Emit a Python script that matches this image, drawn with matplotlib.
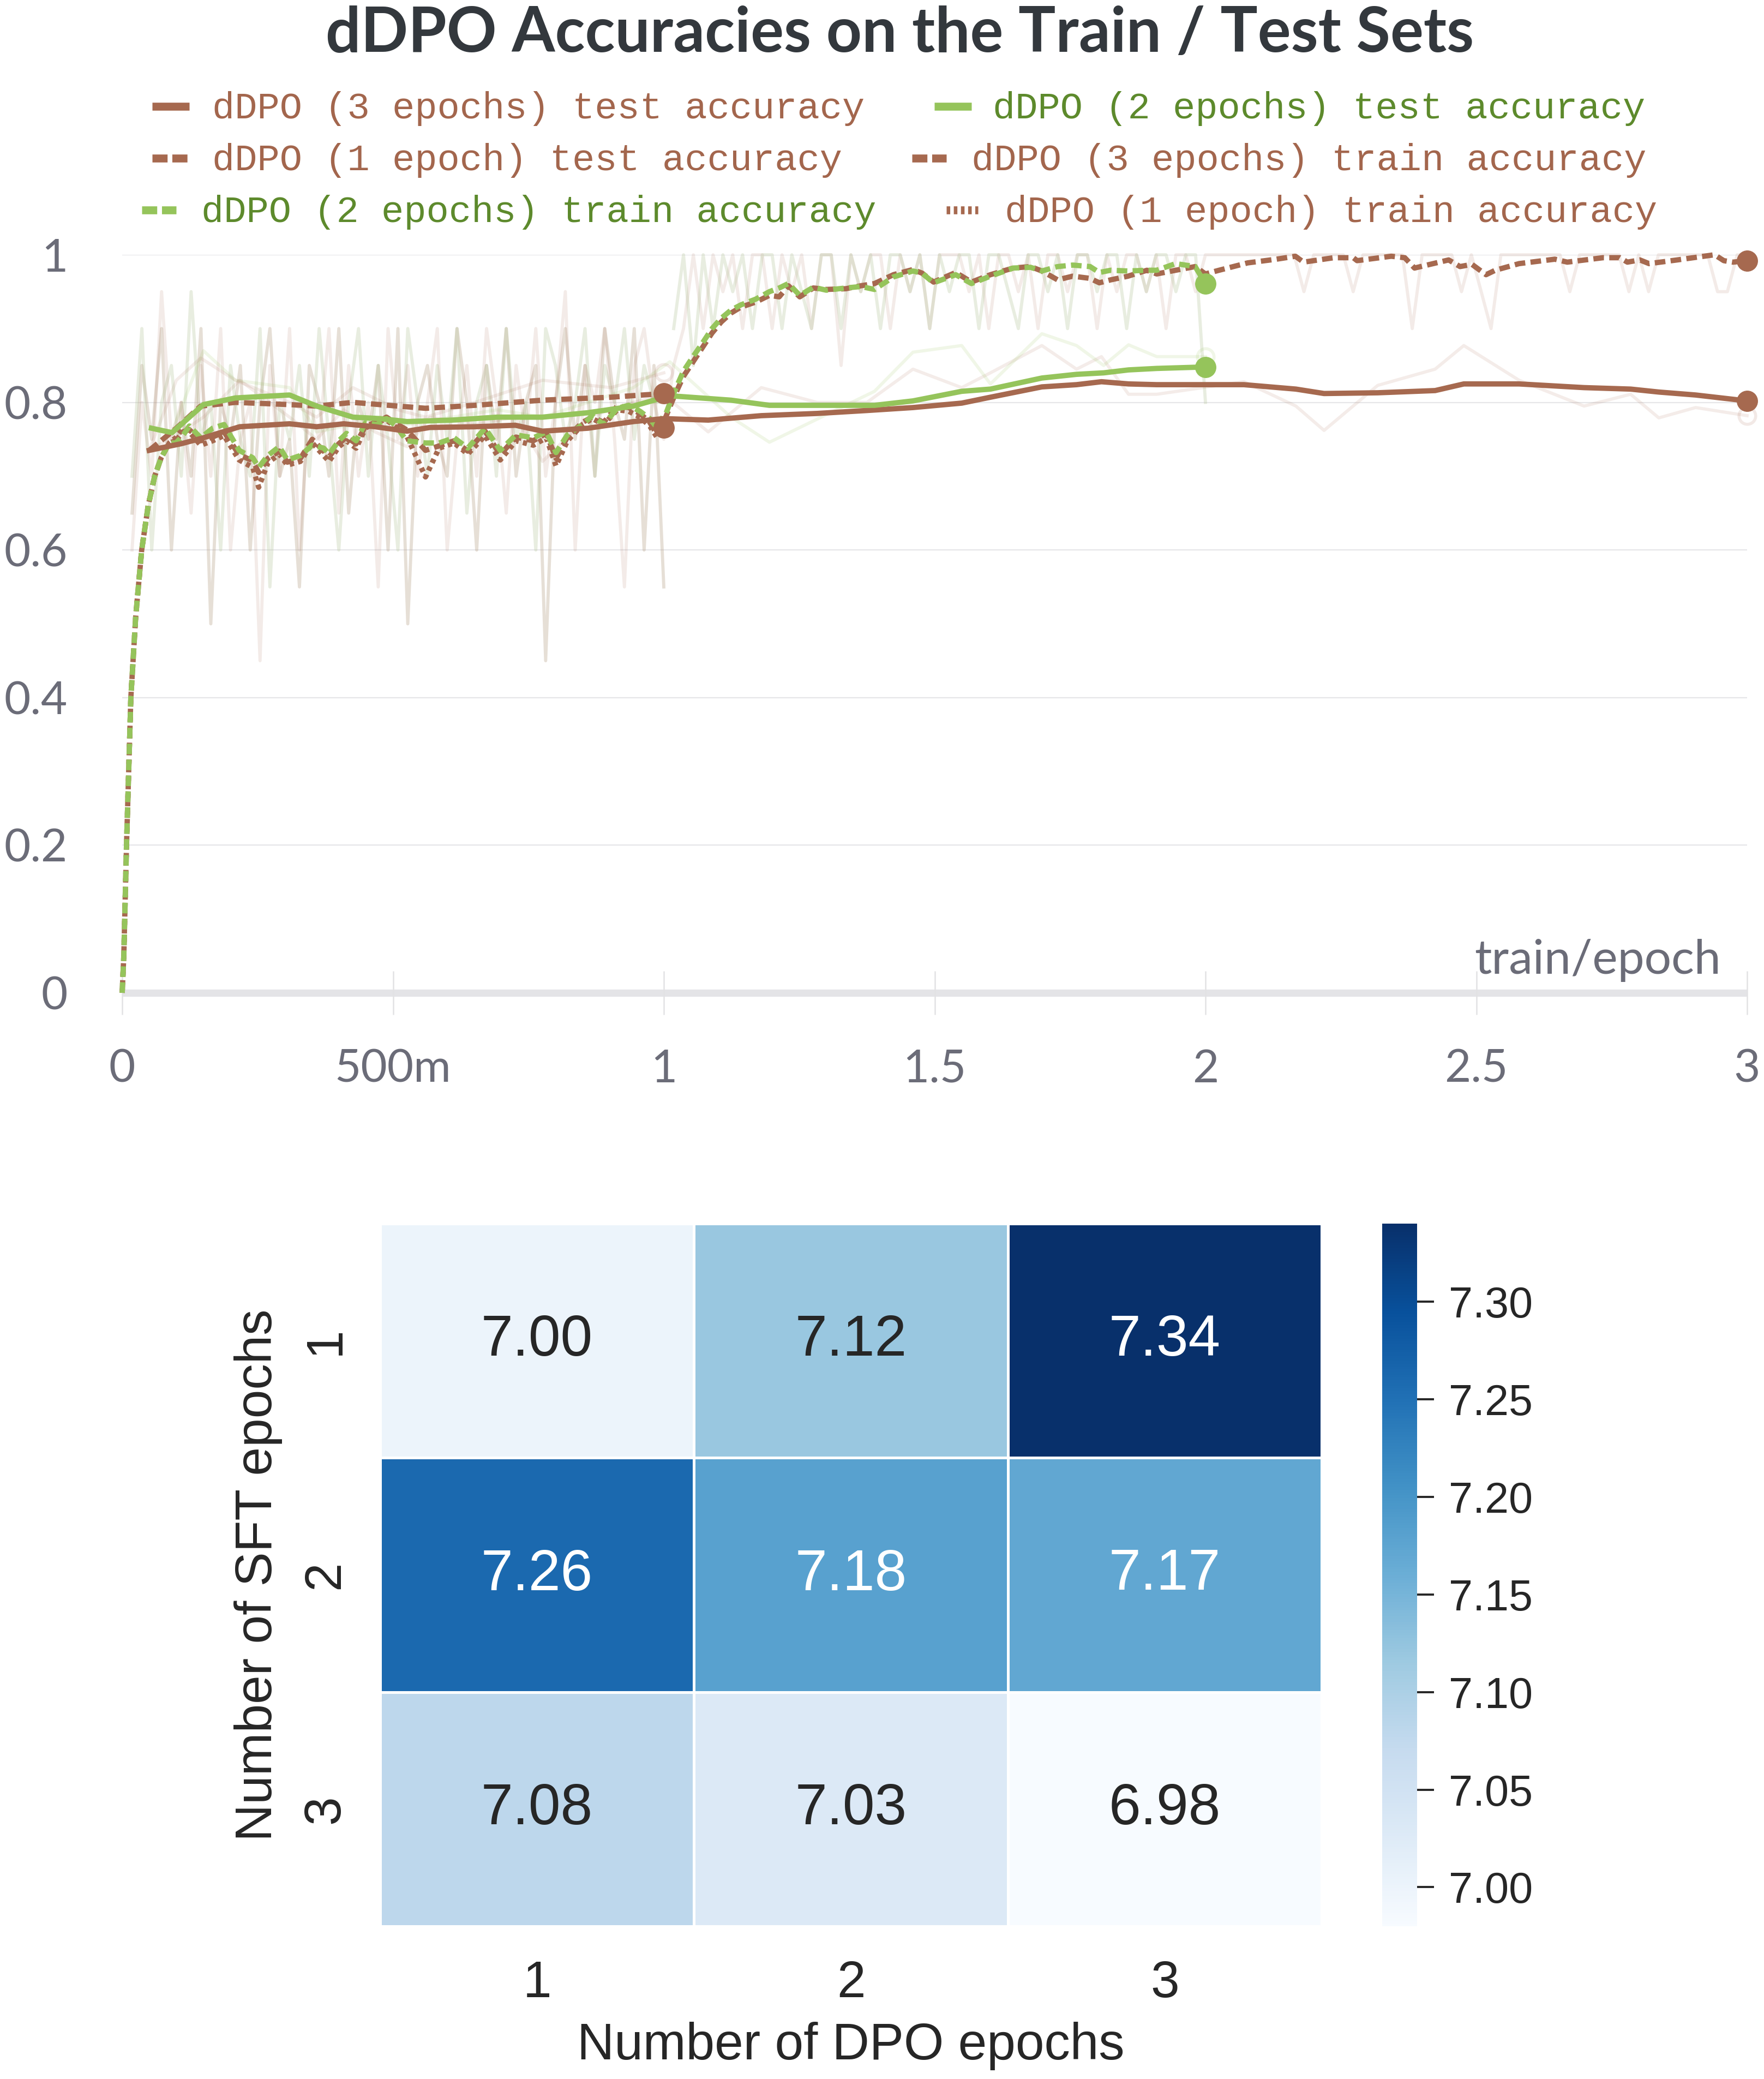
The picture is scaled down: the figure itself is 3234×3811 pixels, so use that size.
import numpy as np
import matplotlib
matplotlib.use("Agg")
import matplotlib.pyplot as plt
from matplotlib.lines import Line2D
import seaborn as sns

# ---------------- data: smoothed curves (epoch, accuracy) ----------------
# dDPO (3 epochs) test accuracy
test3_x = [0.05, 0.109, 0.15, 0.217, 0.309, 0.359, 0.409, 0.467, 0.526, 0.568,
           0.651, 0.726, 0.776, 0.86, 0.944, 1.0, 1.082, 1.18, 1.283, 1.375,
           1.46, 1.55, 1.603, 1.698, 1.762, 1.808, 1.858, 1.91, 2.071, 2.167,
           2.219, 2.318, 2.424, 2.477, 2.579, 2.699, 2.785, 2.837, 2.905, 3.0]
test3_y = [0.735, 0.744, 0.752, 0.767, 0.771, 0.767, 0.771, 0.767, 0.761, 0.766,
           0.767, 0.769, 0.761, 0.765, 0.774, 0.778, 0.776, 0.782, 0.785, 0.789,
           0.793, 0.799, 0.807, 0.821, 0.824, 0.828, 0.825, 0.824, 0.824, 0.818,
           0.812, 0.813, 0.816, 0.825, 0.825, 0.820, 0.818, 0.814, 0.810, 0.802]
test3_raw = [0.735, 0.76, 0.78, 0.83, 0.78, 0.75, 0.79, 0.76, 0.74, 0.78,
             0.77, 0.78, 0.72, 0.78, 0.80, 0.81, 0.76, 0.82, 0.80, 0.80,
             0.845, 0.82, 0.84, 0.877, 0.845, 0.862, 0.811, 0.811, 0.828, 0.795,
             0.762, 0.823, 0.845, 0.877, 0.83, 0.795, 0.811, 0.779, 0.793, 0.782]

# dDPO (2 epochs) test accuracy
test2_x = [0.054, 0.092, 0.15, 0.209, 0.309, 0.359, 0.426, 0.476, 0.526, 0.609,
           0.693, 0.776, 0.86, 0.944, 1.011, 1.124, 1.195, 1.389, 1.46, 1.55,
           1.603, 1.698, 1.762, 1.812, 1.858, 1.91, 2.0]
test2_y = [0.765, 0.759, 0.797, 0.806, 0.810, 0.795, 0.780, 0.778, 0.774, 0.776,
           0.780, 0.780, 0.786, 0.795, 0.809, 0.803, 0.796, 0.796, 0.802, 0.815,
           0.818, 0.833, 0.838, 0.840, 0.844, 0.846, 0.848]
test2_raw = [0.765, 0.76, 0.87, 0.83, 0.82, 0.76, 0.77, 0.78, 0.77, 0.78,
             0.79, 0.78, 0.80, 0.82, 0.855, 0.78, 0.746, 0.815, 0.868, 0.877,
             0.825, 0.893, 0.877, 0.85, 0.878, 0.862, 0.862]

# dDPO (1 epoch) test accuracy
test1_x = [0.05, 0.1, 0.145, 0.209, 0.309, 0.359, 0.426, 0.509, 0.56, 0.651, 0.776, 0.902, 1.0]
test1_y = [0.735, 0.765, 0.795, 0.800, 0.797, 0.795, 0.800, 0.795, 0.792, 0.796, 0.803, 0.807, 0.812]
test1_raw = [0.735, 0.83, 0.86, 0.83, 0.80, 0.78, 0.82, 0.79, 0.78, 0.80, 0.83, 0.82, 0.84]

# train accuracy, first epoch (shared epochs for the three runs)
rise_x = [0.0, 0.003, 0.008, 0.016, 0.025, 0.036, 0.048, 0.06, 0.072, 0.087]
rise_y = [0.0, 0.05, 0.20, 0.40, 0.51, 0.60, 0.66, 0.70, 0.725, 0.745]
ep1_x = [0.099, 0.112, 0.124, 0.145, 0.167, 0.188, 0.216, 0.241, 0.252, 0.269,
         0.29, 0.305, 0.329, 0.351, 0.372, 0.382, 0.4, 0.414, 0.432, 0.449,
         0.47, 0.488, 0.506, 0.525, 0.56, 0.585, 0.613, 0.638, 0.67, 0.698,
         0.727, 0.759, 0.783, 0.801, 0.822, 0.85, 0.868, 0.889, 0.914, 0.935,
         0.956, 0.974, 0.988, 1.0]
train3_ep1 = [0.748, 0.760, 0.763, 0.748, 0.753, 0.760, 0.729, 0.721, 0.705, 0.724,
              0.734, 0.719, 0.724, 0.750, 0.734, 0.726, 0.744, 0.753, 0.744, 0.768,
              0.773, 0.780, 0.771, 0.763, 0.735, 0.741, 0.748, 0.734, 0.761, 0.729,
              0.753, 0.748, 0.758, 0.724, 0.753, 0.773, 0.780, 0.773, 0.795, 0.793,
              0.785, 0.773, 0.756, 0.770]
train2_ep1 = [0.745, 0.755, 0.768, 0.752, 0.765, 0.770, 0.735, 0.725, 0.712, 0.728,
              0.740, 0.722, 0.728, 0.742, 0.738, 0.730, 0.748, 0.758, 0.748, 0.772,
              0.770, 0.778, 0.768, 0.748, 0.745, 0.745, 0.752, 0.738, 0.765, 0.735,
              0.756, 0.752, 0.760, 0.732, 0.756, 0.770, 0.782, 0.770, 0.792, 0.796,
              0.788, 0.778, 0.765, 0.783]
train1_ep1 = [0.752, 0.765, 0.760, 0.742, 0.748, 0.755, 0.722, 0.712, 0.685, 0.718,
              0.730, 0.715, 0.720, 0.745, 0.728, 0.720, 0.740, 0.748, 0.738, 0.765,
              0.775, 0.776, 0.766, 0.755, 0.699, 0.738, 0.745, 0.730, 0.755, 0.722,
              0.748, 0.742, 0.752, 0.714, 0.748, 0.770, 0.778, 0.770, 0.790, 0.788,
              0.780, 0.768, 0.752, 0.766]

# train accuracy, second epoch
ep2_x = [1.004, 1.018, 1.036, 1.054, 1.071, 1.089, 1.106, 1.124, 1.142, 1.170,
         1.195, 1.213, 1.230, 1.251, 1.276, 1.300, 1.336, 1.364, 1.389, 1.424,
         1.460, 1.477, 1.498, 1.539, 1.568, 1.603, 1.645, 1.677, 1.698, 1.727,
         1.755, 1.787, 1.804, 1.825, 1.857, 1.892, 1.910, 1.945, 1.981, 2.0]
train3_ep2 = [0.781, 0.806, 0.835, 0.855, 0.874, 0.894, 0.909, 0.921, 0.929, 0.936,
              0.945, 0.943, 0.958, 0.943, 0.955, 0.953, 0.954, 0.958, 0.961, 0.973,
              0.980, 0.975, 0.963, 0.976, 0.963, 0.973, 0.982, 0.984, 0.978, 0.966,
              0.971, 0.968, 0.962, 0.966, 0.971, 0.979, 0.974, 0.979, 0.984, 0.974]
train2_ep2 = [0.785, 0.812, 0.842, 0.862, 0.880, 0.900, 0.914, 0.925, 0.932, 0.940,
              0.950, 0.955, 0.961, 0.945, 0.956, 0.952, 0.955, 0.957, 0.953, 0.970,
              0.978, 0.975, 0.962, 0.973, 0.961, 0.971, 0.982, 0.983, 0.978, 0.984,
              0.986, 0.984, 0.976, 0.979, 0.978, 0.979, 0.979, 0.988, 0.984, 0.961]

# train accuracy, third epoch (3-epoch run only)
ep3_x = [2.025, 2.078, 2.131, 2.166, 2.181, 2.237, 2.273, 2.280, 2.343, 2.368,
         2.386, 2.449, 2.470, 2.492, 2.518, 2.535, 2.579, 2.645, 2.668, 2.734,
         2.765, 2.779, 2.802, 2.819, 2.871, 2.940, 2.957, 2.974, 3.0]
train3_ep3 = [0.979, 0.989, 0.994, 0.998, 0.990, 0.996, 0.996, 0.992, 0.998, 0.996,
              0.982, 0.993, 0.984, 0.987, 0.973, 0.979, 0.988, 0.994, 0.990, 0.996,
              0.996, 0.990, 0.993, 0.988, 0.993, 1.000, 0.992, 0.990, 0.992]

# raw (unsmoothed) batch train accuracy, one value per logged step
raw3_ep1 = [0.60, 0.80, 0.70, 0.95, 0.75, 0.80, 0.65, 0.85, 0.70, 0.90,
            0.60, 0.75, 0.80, 0.45, 0.85, 0.70, 0.90, 0.60, 0.80, 0.75,
            0.90, 0.65, 0.85, 0.70, 0.80, 0.55, 0.90, 0.75, 0.85, 0.70,
            0.80, 0.90, 0.60, 0.75, 0.85, 0.70, 0.90, 0.80, 0.65, 0.85,
            0.75, 0.90, 0.70, 0.80, 0.95, 0.60, 0.85, 0.80, 0.90, 0.75,
            0.55, 0.85, 0.90, 0.80, 0.75]
raw2_ep1 = [0.70, 0.90, 0.60, 0.80, 0.85, 0.70, 0.95, 0.75, 0.80, 0.60,
            0.85, 0.75, 0.70, 0.90, 0.55, 0.80, 0.75, 0.85, 0.70, 0.90,
            0.75, 0.60, 0.80, 0.90, 0.70, 0.85, 0.75, 0.60, 0.90, 0.80,
            0.70, 0.85, 0.75, 0.90, 0.65, 0.80, 0.85, 0.70, 0.90, 0.75,
            0.80, 0.60, 0.90, 0.85, 0.75, 0.80, 0.90, 0.70, 0.85, 0.80,
            0.90, 0.75, 0.85, 0.80, 0.80]
raw1_ep1 = [0.65, 0.85, 0.75, 0.90, 0.60, 0.80, 0.70, 0.90, 0.50, 0.80,
            0.75, 0.85, 0.60, 0.80, 0.90, 0.70, 0.75, 0.55, 0.85, 0.80,
            0.70, 0.90, 0.65, 0.80, 0.75, 0.85, 0.60, 0.90, 0.50, 0.80,
            0.85, 0.75, 0.70, 0.90, 0.80, 0.60, 0.85, 0.75, 0.90, 0.70,
            0.80, 0.85, 0.45, 0.80, 0.90, 0.75, 0.85, 0.70, 0.90, 0.80,
            0.75, 0.90, 0.60, 0.85, 0.55]
raw3_ep2 = [0.85, 0.90, 1.00, 0.90, 1.00, 0.95, 1.00, 0.90, 1.00, 1.00,
            0.90, 1.00, 0.95, 1.00, 0.90, 1.00, 1.00, 0.85, 1.00, 0.95,
            1.00, 1.00, 0.90, 1.00, 0.95, 1.00, 0.90, 1.00, 1.00, 1.00,
            0.95, 1.00, 0.90, 1.00, 1.00, 0.95, 1.00, 0.90, 1.00, 1.00,
            0.95, 1.00, 1.00, 0.90, 1.00, 0.95, 1.00, 1.00, 0.95, 1.00,
            0.90, 1.00, 1.00, 0.95, 1.00]
raw2_ep2 = [0.90, 1.00, 0.85, 1.00, 0.90, 1.00, 0.95, 1.00, 0.90, 1.00,
            1.00, 0.90, 1.00, 0.95, 0.90, 1.00, 1.00, 0.90, 1.00, 0.95,
            1.00, 0.90, 1.00, 1.00, 0.95, 1.00, 0.90, 1.00, 0.95, 1.00,
            1.00, 0.90, 1.00, 1.00, 0.95, 0.90, 1.00, 1.00, 0.95, 1.00,
            0.90, 1.00, 1.00, 0.95, 1.00, 1.00, 0.90, 1.00, 0.95, 1.00,
            1.00, 0.95, 1.00, 1.00, 0.80]
raw3_ep3 = [1.00, 1.00, 1.00, 1.00, 1.00, 1.00, 1.00, 1.00, 1.00, 0.95,
            1.00, 1.00, 1.00, 1.00, 0.95, 1.00, 1.00, 1.00, 1.00, 1.00,
            0.90, 1.00, 1.00, 1.00, 1.00, 0.95, 1.00, 0.95, 0.90, 1.00,
            1.00, 1.00, 1.00, 1.00, 1.00, 1.00, 0.95, 1.00, 1.00, 1.00,
            1.00, 1.00, 0.95, 1.00, 0.95, 1.00, 1.00, 1.00, 1.00, 1.00,
            1.00, 0.95, 0.95, 1.00, 1.00]

# heatmap: score by SFT epochs (rows) x DPO epochs (cols)
sft_labels = ["1", "2", "3"]
dpo_labels = ["1", "2", "3"]
scores = [[7.00, 7.12, 7.34],
          [7.26, 7.18, 7.17],
          [7.08, 7.03, 6.98]]

xtick_vals = [0, 0.5, 1, 1.5, 2, 2.5, 3]
xtick_text = ["0", "500m", "1", "1.5", "2", "2.5", "3"]
ytick_vals = [0, 0.2, 0.4, 0.6, 0.8, 1.0]
ytick_text = ["0", "0.2", "0.4", "0.6", "0.8", "1"]

# ---------------- styling ----------------
W, H = 3234, 3811
BROWN = "#a6694f"
GREEN = "#95c45b"
BROWN_TXT = "#a3664d"
GREEN_TXT = "#5d8a2c"
GRAY_TXT = "#6b6c78"
WB_FONT = ["Lato", "DejaVu Sans"]


def fx(px):
    return px / W


def fy(py):
    return 1 - py / H


def steps(start, vals):
    n = len(vals)
    return [start + (k + 1) / n for k in range(n)]


fig = plt.figure(figsize=(W / 100, H / 100), dpi=100)
fig.patch.set_facecolor("white")

# ---------------- top: wandb line chart ----------------
ax = fig.add_axes([fx(224), fy(1820), fx(3203 - 224), (1820 - 467) / H])
ax.set_xlim(0, 3)
ax.set_ylim(0, 1)
for s in ax.spines.values():
    s.set_visible(False)

for y in ytick_vals[1:]:
    ax.axhline(y, color="#e6e6e8", lw=1.6, zorder=0)
ax.plot([0, 3], [0, 0], color="#e4e4e7", lw=9.5, solid_capstyle="butt", zorder=0.5, clip_on=False)

# raw curves (faint)
raw_kw = dict(lw=4.2, zorder=1, clip_on=False)
ax.plot(steps(0, raw1_ep1), raw1_ep1, color="#b9a48c", alpha=0.35, **raw_kw)
ax.plot(steps(0, raw2_ep1), raw2_ep1, color="#b5c49a", alpha=0.3, **raw_kw)
ax.plot(steps(0, raw3_ep1) + steps(1, raw3_ep2) + steps(2, raw3_ep3),
        raw3_ep1 + raw3_ep2 + raw3_ep3, color=BROWN, alpha=0.13, **raw_kw)
ax.plot(steps(1, raw2_ep2), raw2_ep2, color="#b5c49a", alpha=0.3, **raw_kw)
ax.plot(test3_x, test3_raw, color=BROWN, alpha=0.12, **raw_kw)
ax.plot(test2_x, test2_raw, color=GREEN, alpha=0.14, **raw_kw)
ax.plot(test1_x, test1_raw, color=BROWN, alpha=0.12, **raw_kw)
for xs, ys, c in [(test3_x, test3_raw, BROWN), (test2_x, test2_raw, GREEN), (test1_x, test1_raw, BROWN)]:
    ax.plot(xs[-1], ys[-1], "o", ms=22, mfc="none", mec=c, mew=4, alpha=0.14, clip_on=False)

# smoothed curves
LW = 7
dash = (0, (2.0, 1.0))
dot = (0, (0.8, 0.8))
train3_x = rise_x + ep1_x + ep2_x + ep3_x
train3_y = rise_y + train3_ep1 + train3_ep2 + train3_ep3
train2_x = rise_x + ep1_x + ep2_x
train2_y = rise_y + train2_ep1 + train2_ep2
train1_x = rise_x + ep1_x
train1_y = rise_y + train1_ep1

series = [
    (train1_x, train1_y, BROWN, dot),
    (train3_x, train3_y, BROWN, dash),
    (train2_x, train2_y, GREEN, dash),
    (test1_x, test1_y, BROWN, dash),
    (test3_x, test3_y, BROWN, "-"),
    (test2_x, test2_y, GREEN, "-"),
]
for xs, ys, c, ls in series:
    ax.plot(xs, ys, color=c, lw=LW, linestyle=ls, zorder=3, clip_on=False)
    ax.plot(xs[-1], ys[-1], "o", ms=27, color=c, zorder=4, clip_on=False)

ax.set_xticks(xtick_vals)
ax.set_xticklabels(xtick_text, fontfamily=WB_FONT)
ax.set_yticks(ytick_vals)
ax.set_yticklabels(ytick_text, fontfamily=WB_FONT)
ax.tick_params(axis="x", direction="inout", length=58, width=1.8, color="#e2e2e4",
               pad=45, labelsize=60, labelcolor=GRAY_TXT)
ax.tick_params(axis="y", length=0, pad=72, labelsize=60, labelcolor=GRAY_TXT)
ax.text(0.984, 0.044, "train/epoch", transform=ax.transAxes, ha="right", va="center",
        fontsize=63, color=GRAY_TXT, fontfamily=WB_FONT)

fig.text(fx(1650), fy(62), "dDPO Accuracies on the Train / Test Sets", ha="center", va="center",
         fontsize=82, fontweight="bold", color="#33383d", fontfamily=WB_FONT)

# legend (flex-wrapped entries like the wandb panel)
legend_items = [
    ("dDPO (3 epochs) test accuracy", BROWN, BROWN_TXT, "-"),
    ("dDPO (2 epochs) test accuracy", GREEN, GREEN_TXT, "-"),
    ("dDPO (1 epoch) test accuracy", BROWN, BROWN_TXT, (0, (1.9, 0.6))),
    ("dDPO (3 epochs) train accuracy", BROWN, BROWN_TXT, (0, (1.9, 0.6))),
    ("dDPO (2 epochs) train accuracy", GREEN, GREEN_TXT, (0, (1.9, 0.6))),
    ("dDPO (1 epoch) train accuracy", BROWN, BROWN_TXT, (0, (0.45, 0.45))),
]
legend_pos = [(279, 347, 389, 199), (1713, 1781, 1820, 199),
              (279, 347, 389, 294), (1672, 1735, 1781, 294),
              (260, 323, 369, 389), (1735, 1793, 1842, 389)]
for (label, lc, tc, ls), (h0, h1, tx, ty) in zip(legend_items, legend_pos):
    fig.add_artist(Line2D([fx(h0), fx(h1)], [fy(ty - 4), fy(ty - 4)], transform=fig.transFigure,
                          color=lc, lw=10.5, linestyle=ls, solid_capstyle="butt", dash_capstyle="butt"))
    fig.text(fx(tx), fy(ty), label, ha="left", va="center", fontsize=49.5,
             color=tc, fontfamily=["Liberation Mono", "DejaVu Sans Mono"])

# ---------------- bottom: heatmap ----------------
hax = fig.add_axes([fx(697), fy(3531), fx(2423 - 697), (3531 - 2243) / H])
cax = fig.add_axes([fx(2534), fy(3531), fx(2598 - 2534), (3531 - 2243) / H])
sns.heatmap(np.array(scores), ax=hax, cbar_ax=cax, cmap="Blues", annot=True, fmt=".2f",
            linewidths=3.5, linecolor="white", xticklabels=dpo_labels, yticklabels=sft_labels,
            annot_kws={"fontsize": 76, "fontfamily": "Liberation Sans"})
hax.tick_params(length=0, labelsize=68, labelcolor="#262626")
hax.tick_params(axis="x", pad=44)
hax.tick_params(axis="y", pad=40)
for t in hax.get_xticklabels() + hax.get_yticklabels():
    t.set_fontfamily("Liberation Sans")
for t in hax.get_yticklabels():
    t.set_rotation(90)
    t.set_va("center")
hax.set_xlabel("Number of DPO epochs", fontsize=68, fontfamily="Liberation Sans", color="#262626", labelpad=18)
hax.set_ylabel("Number of SFT epochs", fontsize=68, fontfamily="Liberation Sans", color="#262626", labelpad=25)

cax.set_yticks([7.00, 7.05, 7.10, 7.15, 7.20, 7.25, 7.30])
cax.tick_params(length=22, width=2.8, color="#262626", labelsize=57, labelcolor="#262626", pad=20)
for t in cax.get_yticklabels():
    t.set_fontfamily("Liberation Sans")

fig.savefig("out.png", dpi=100, facecolor="white")
